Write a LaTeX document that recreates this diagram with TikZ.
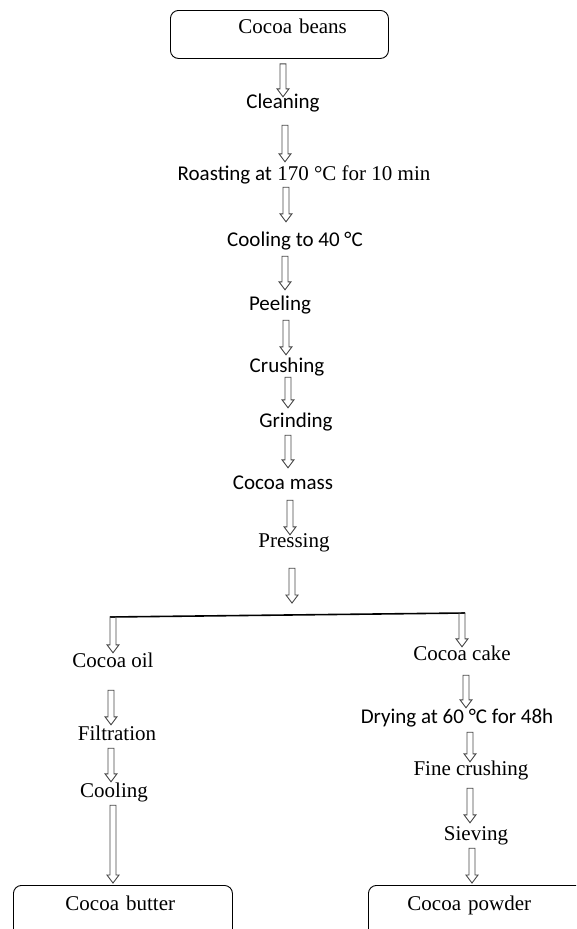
\documentclass[tikz,border=0pt]{standalone}
\usepackage{fontspec}
\setmainfont{Liberation Serif}
\newfontfamily\calfont{Carlito}
\usetikzlibrary{calc}
\definecolor{arrowgray}{HTML}{474747}
\tikzset{
  ga/.store in=\flowga, gb/.store in=\flowgb, ax/.store in=\flowax,
  ga=0pt, gb=0pt, ax=0pt,
  flow/.style={draw=arrowgray, line width=0.9pt, line join=miter,
    to path={let \p1=(\tikztostart), \p2=(\tikztotarget) in
      (\flowax-3pt,\y1-\flowga) -- (\flowax+3pt,\y1-\flowga)
      -- (\flowax+3pt,\y2+\flowgb+8pt) -- (\flowax+6pt,\y2+\flowgb+8pt)
      -- (\flowax,\y2+\flowgb) -- (\flowax-6pt,\y2+\flowgb+8pt)
      -- (\flowax-3pt,\y2+\flowgb+8pt) -- cycle}},
  txt/.style={inner sep=0pt, text height=14pt, text depth=4pt,
    font=\fontsize{21}{25}\selectfont},
  cal/.style={txt, font=\fontsize{21}{25}\selectfont\calfont},
  procbox/.style={draw, rounded corners=8pt, line width=0.9pt, anchor=north west,
    inner xsep=0pt, text height=14pt, align=left,
    font=\fontsize{21}{25}\selectfont},
  barline/.style={draw=black, line width=1.6pt}
}
\begin{document}
\begin{tikzpicture}[x=1pt,y=-1pt]
\useasboundingbox (0,0) rectangle (576,929);
\clip (0,0) rectangle (576,929);

% boxes
\node[procbox, text width=218pt, inner ysep=9pt, text depth=16pt] (beans) at (170,10) {\hspace*{68pt}Cocoa beans};
\node[procbox, text width=219pt, inner ysep=11pt, text depth=29pt] (butter) at (13,885) {\hspace*{52pt}Cocoa butter};
\node[procbox, text width=230pt, inner ysep=11pt, text depth=29pt] (powder) at (368,885) {\hspace*{39pt}Cocoa powder};

% steps
\node[cal] (clean) at (283,103) {Cleaning};
\node[txt] (roast) at (304,175) {{\calfont Roasting at} 170 °C for 10 min};
\node[cal] (cool40) at (295,241) {Cooling to 40 °C};
\node[cal] (peel) at (280,305) {Peeling};
\node[cal] (crush) at (287,367) {Crushing};
\node[cal] (grind) at (296,422) {Grinding};
\node[cal] (mass) at (283,484) {Cocoa mass};
\node[txt] (press) at (294,542) {Pressing};

\coordinate (split) at (292,615);
\coordinate (barL) at (113,617);
\coordinate (barR) at (462,613);

\node[txt] (oil) at (113,662) {Cocoa oil};
\node[txt] (filt) at (117,735) {Filtration};
\node[txt] (cool) at (114,792) {Cooling};

\node[txt] (cake) at (462,655) {Cocoa cake};
\node[cal] (dry) at (457,718) {Drying at 60 °C for 48h};
\node[txt] (fine) at (471,770) {Fine crushing};
\node[txt] (sieve) at (476,835) {Sieving};

% main line arrows
\draw[flow, ax=283pt, ga=5pt, gb=-3pt] (beans.south) to (clean.north);
\draw[flow, ax=285pt, ga=13pt, gb=4pt] (clean.south) to (roast.north);
\draw[flow, ax=286pt, ga=3pt, gb=10pt] (roast.south) to (cool40.north);
\draw[flow, ax=285pt, ga=6pt, gb=6pt] (cool40.south) to (peel.north);
\draw[flow, ax=286pt, ga=6pt, gb=3pt] (peel.south) to (crush.north);
\draw[flow, ax=288pt, ga=1pt, gb=5pt] (crush.south) to (grind.north);
\draw[flow, ax=288pt, ga=4pt, gb=7pt] (grind.south) to (mass.north);
\draw[flow, ax=290pt, ga=7pt, gb=-2pt] (mass.south) to (press.north);
\draw[flow, ax=292pt, ga=17pt, gb=12pt] (press.south) to (split);

% split bar
\draw[barline] ([xshift=-3pt]barL) -- ([xshift=3pt]barR);

% left branch
\draw[flow, ax=113pt, ga=0pt, gb=0pt] (barL) to (oil.north);
\draw[flow, ax=111pt, ga=19pt, gb=1pt] (oil.south) to (filt.north);
\draw[flow, ax=111pt, ga=4pt, gb=1pt] (filt.south) to (cool.north);
\draw[flow, ax=113pt, ga=4pt, gb=2pt] (cool.south) to (butter.north);

% right branch
\draw[flow, ax=462pt, ga=0pt, gb=-1pt] (barR) to (cake.north);
\draw[flow, ax=466pt, ga=11pt, gb=1pt] (cake.south) to (dry.north);
\draw[flow, ax=470pt, ga=5pt, gb=-1pt] (dry.south) to (fine.north);
\draw[flow, ax=470pt, ga=9pt, gb=3pt] (fine.south) to (sieve.north);
\draw[flow, ax=472pt, ga=4pt, gb=2pt] (sieve.south) to (powder.north);
\end{tikzpicture}
\end{document}
